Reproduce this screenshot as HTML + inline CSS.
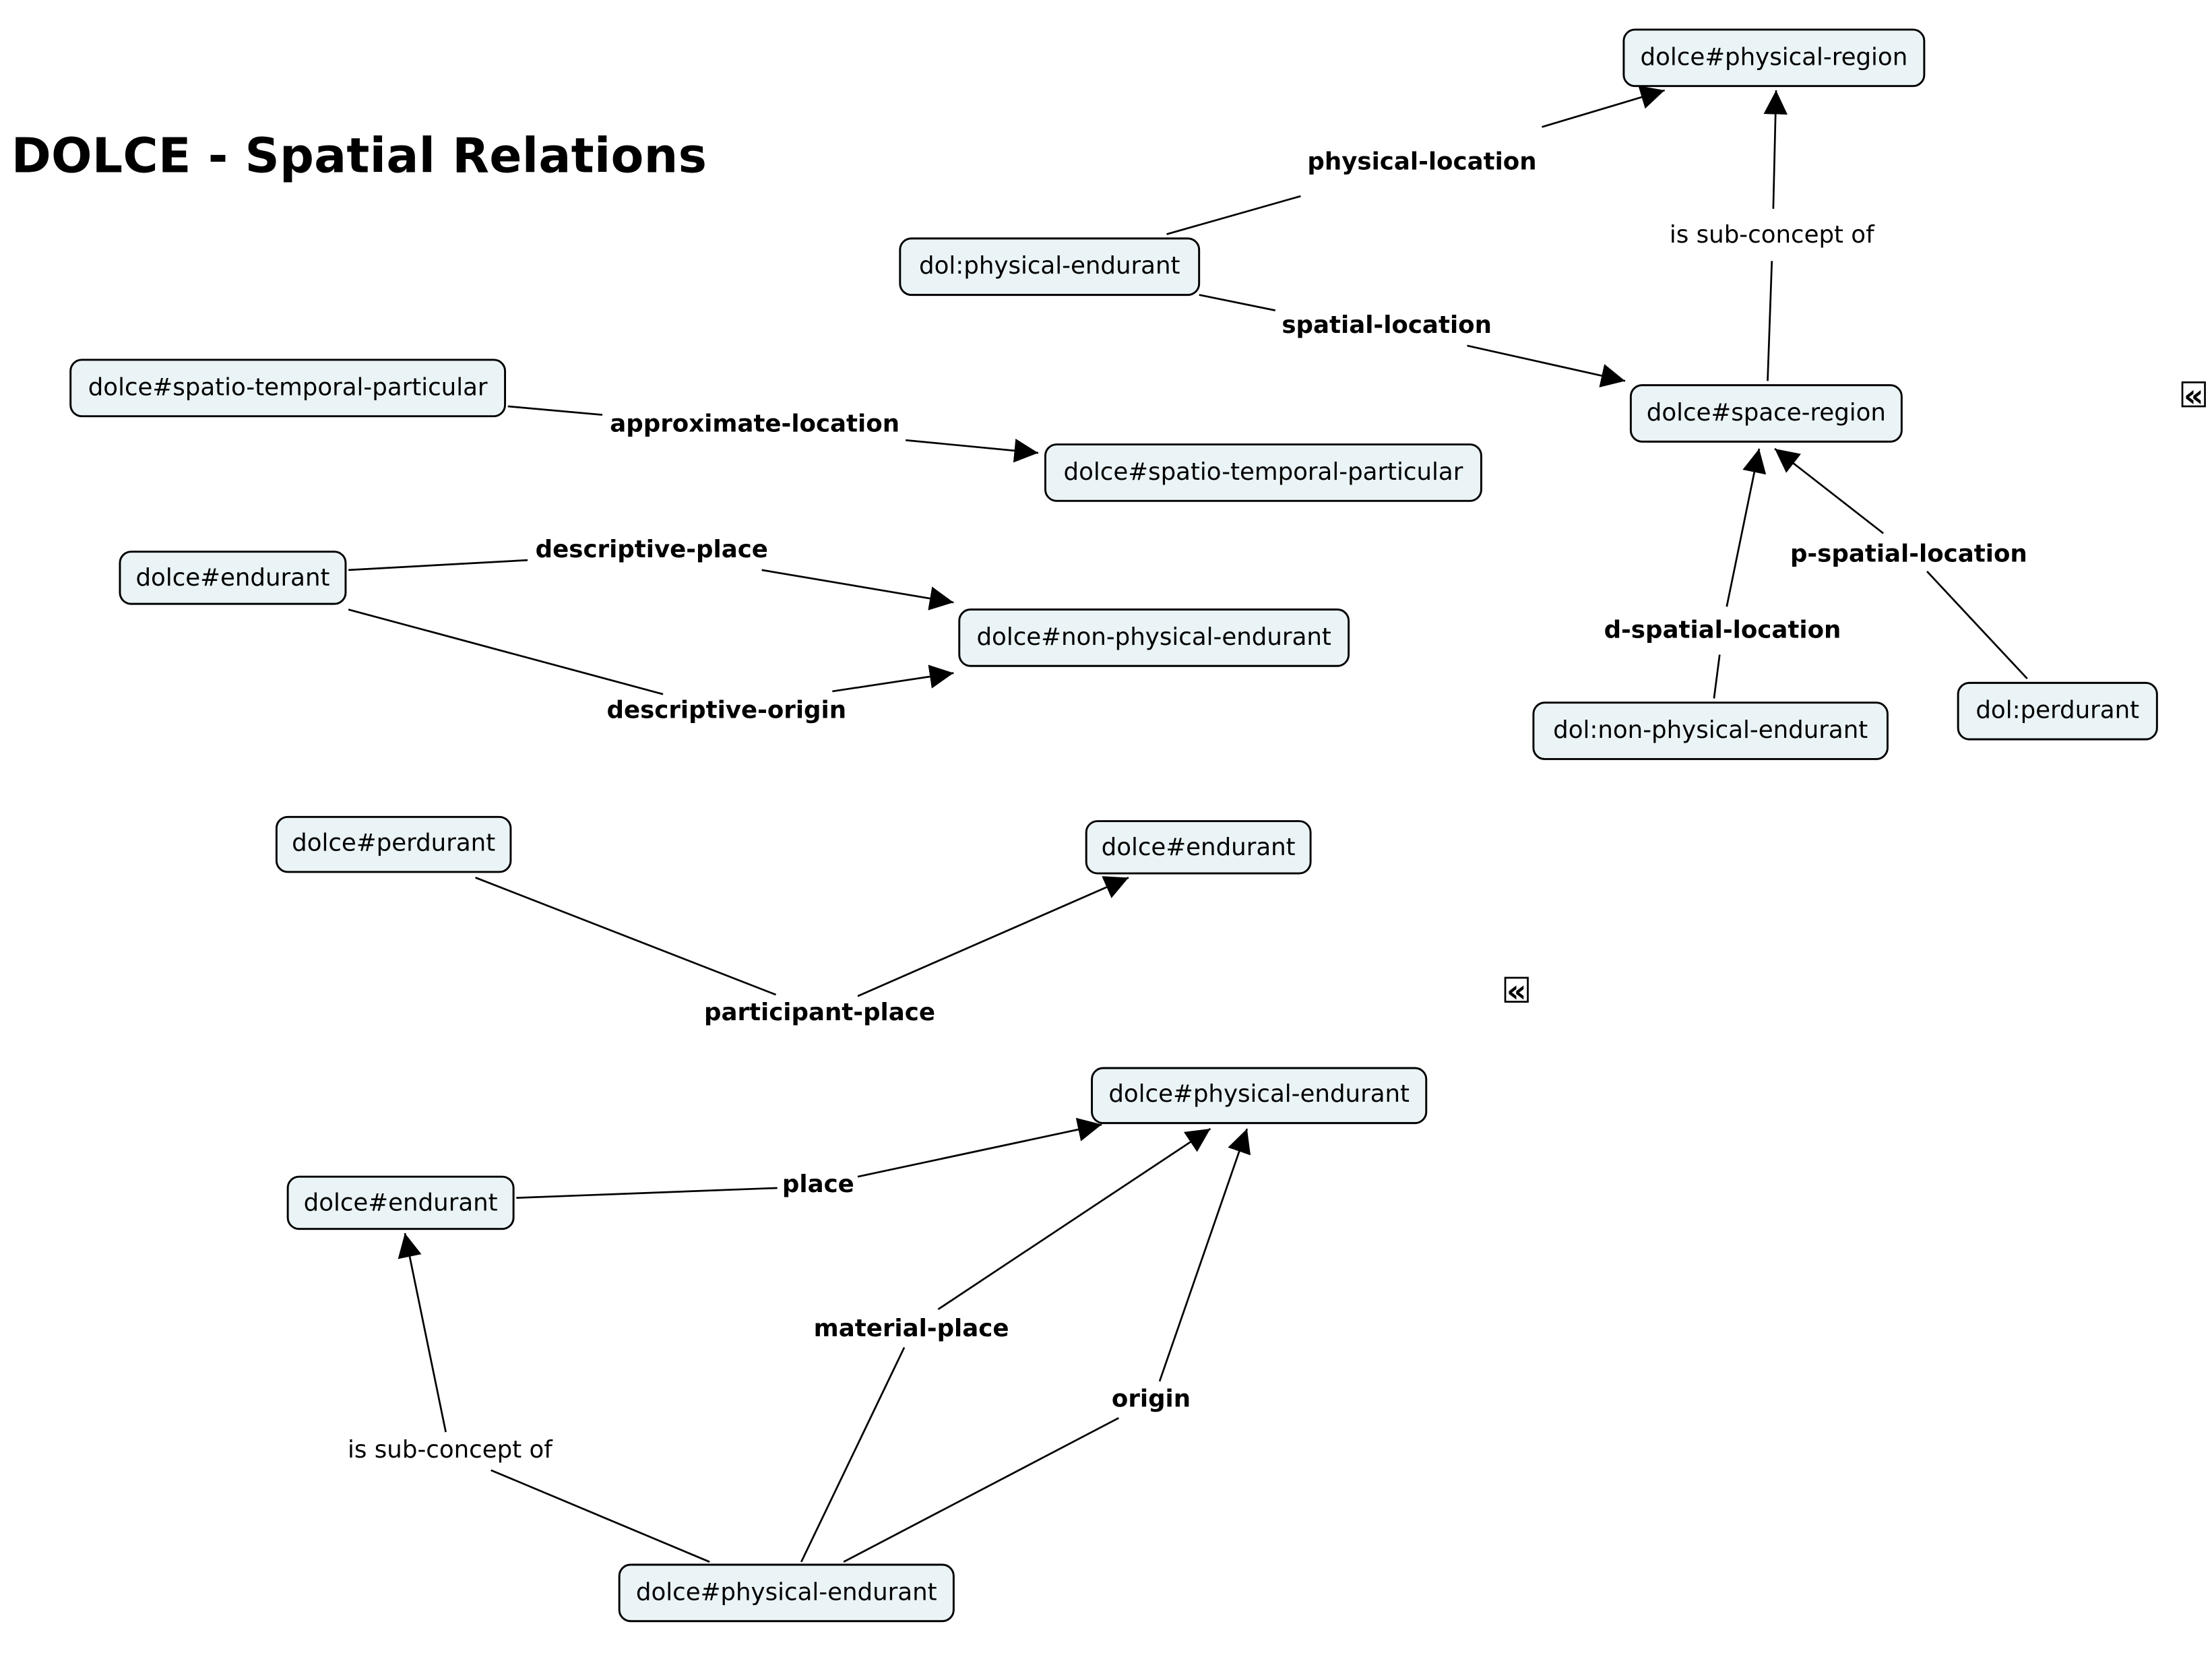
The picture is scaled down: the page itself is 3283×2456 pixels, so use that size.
<!DOCTYPE html>
<html><head><meta charset="utf-8"><style>
html,body{margin:0;padding:0;background:#fff;}
svg{display:block;}
text{font-family:"DejaVu Sans","Liberation Sans",sans-serif;fill:#000;}
.n{font-size:17px;text-anchor:middle;}
.l{font-size:17px;font-weight:bold;text-anchor:middle;}
.s{font-size:17px;text-anchor:middle;}
rect{fill:#eaf3f5;stroke:#000;stroke-width:1.4;}
line{stroke:#000;stroke-width:1.3;}
</style></head><body>
<svg width="3283" height="2456" viewBox="0 0 1568 1173" preserveAspectRatio="none" xmlns="http://www.w3.org/2000/svg">
<defs><marker id="a" viewBox="0 0 10 10" refX="10" refY="5" markerWidth="17" markerHeight="17" markerUnits="userSpaceOnUse" orient="auto"><path d="M0,0 L10,5 L0,10 z" fill="#000"/></marker></defs>
<text x="8" y="122" style="font-size:34px;font-weight:bold" textLength="493">DOLCE - Spatial Relations</text>

<line x1="827" y1="166" x2="922" y2="139"/><line x1="1093" y1="90" x2="1180" y2="64" marker-end="url(#a)"/>
<text class="l" x="1008" y="120">physical-location</text>
<line x1="1253" y1="270" x2="1256" y2="185"/><line x1="1257" y1="148" x2="1259" y2="64" marker-end="url(#a)"/>
<text class="s" x="1256" y="172">is sub-concept of</text>
<line x1="850" y1="209" x2="904" y2="220"/><line x1="1040" y1="245" x2="1152" y2="270" marker-end="url(#a)"/>
<text class="l" x="983" y="236">spatial-location</text>
<line x1="360" y1="288" x2="427" y2="294"/><line x1="642" y1="312" x2="736" y2="321" marker-end="url(#a)"/>
<text class="l" x="535" y="306">approximate-location</text>
<line x1="247" y1="404" x2="374" y2="397"/><line x1="540" y1="404" x2="676" y2="427" marker-end="url(#a)"/>
<text class="l" x="462" y="395">descriptive-place</text>
<line x1="247" y1="432" x2="470" y2="492"/><line x1="590" y1="490" x2="676" y2="477" marker-end="url(#a)"/>
<text class="l" x="515" y="509">descriptive-origin</text>
<line x1="1215" y1="495" x2="1219" y2="464"/><line x1="1224" y1="430" x2="1247" y2="318" marker-end="url(#a)"/>
<text class="l" x="1221" y="452">d-spatial-location</text>
<line x1="1437" y1="481" x2="1366" y2="405"/><line x1="1335" y1="378" x2="1258" y2="318" marker-end="url(#a)"/>
<text class="l" x="1353" y="398">p-spatial-location</text>
<line x1="337" y1="622" x2="550" y2="705"/><line x1="608" y1="706" x2="800" y2="622" marker-end="url(#a)"/>
<text class="l" x="581" y="723">participant-place</text>
<line x1="366" y1="849" x2="551" y2="842"/><line x1="608" y1="834" x2="781" y2="797" marker-end="url(#a)"/>
<text class="l" x="580" y="845">place</text>
<line x1="568" y1="1107" x2="641" y2="955"/><line x1="665" y1="928" x2="858" y2="800" marker-end="url(#a)"/>
<text class="l" x="646" y="947">material-place</text>
<line x1="598" y1="1107" x2="793" y2="1005"/><line x1="822" y1="979" x2="884" y2="800" marker-end="url(#a)"/>
<text class="l" x="816" y="997">origin</text>
<line x1="503" y1="1107" x2="348" y2="1042"/><line x1="316" y1="1015" x2="287" y2="874" marker-end="url(#a)"/>
<text class="s" x="319" y="1033">is sub-concept of</text>

<rect x="1151" y="21" width="213" height="40" rx="8"/><text class="n" x="1257.5" y="46">dolce#physical-region</text>
<rect x="638" y="169" width="212" height="40" rx="8"/><text class="n" x="744" y="194">dol:physical-endurant</text>
<rect x="50" y="255" width="308" height="40" rx="8"/><text class="n" x="204" y="280">dolce#spatio-temporal-particular</text>
<rect x="1156" y="273" width="192" height="40" rx="8"/><text class="n" x="1252" y="298">dolce#space-region</text>
<rect x="741" y="315" width="309" height="40" rx="8"/><text class="n" x="895.5" y="340">dolce#spatio-temporal-particular</text>
<rect x="85" y="391" width="160" height="37" rx="8"/><text class="n" x="165" y="415">dolce#endurant</text>
<rect x="680" y="432" width="276" height="40" rx="8"/><text class="n" x="818" y="457">dolce#non-physical-endurant</text>
<rect x="1087" y="498" width="251" height="40" rx="8"/><text class="n" x="1212.5" y="523">dol:non-physical-endurant</text>
<rect x="1388" y="484" width="141" height="40" rx="8"/><text class="n" x="1458.5" y="509">dol:perdurant</text>
<rect x="196" y="579" width="166" height="39" rx="8"/><text class="n" x="279" y="603">dolce#perdurant</text>
<rect x="770" y="582" width="159" height="37" rx="8"/><text class="n" x="849.5" y="606">dolce#endurant</text>
<rect x="774" y="757" width="237" height="39" rx="8"/><text class="n" x="892.5" y="781">dolce#physical-endurant</text>
<rect x="204" y="834" width="160" height="37" rx="8"/><text class="n" x="284" y="858">dolce#endurant</text>
<rect x="439" y="1109" width="237" height="40" rx="8"/><text class="n" x="557.5" y="1134">dolce#physical-endurant</text>

<g>
<rect x="1547" y="271" width="16" height="17" style="fill:#fff;stroke:#000;stroke-width:1.3"/>
<text x="1555" y="288" style="font-size:22px;font-weight:bold;text-anchor:middle">«</text>
<rect x="1067" y="693" width="16" height="17" style="fill:#fff;stroke:#000;stroke-width:1.3"/>
<text x="1075" y="710" style="font-size:22px;font-weight:bold;text-anchor:middle">«</text>
</g>
</svg>
</body></html>
